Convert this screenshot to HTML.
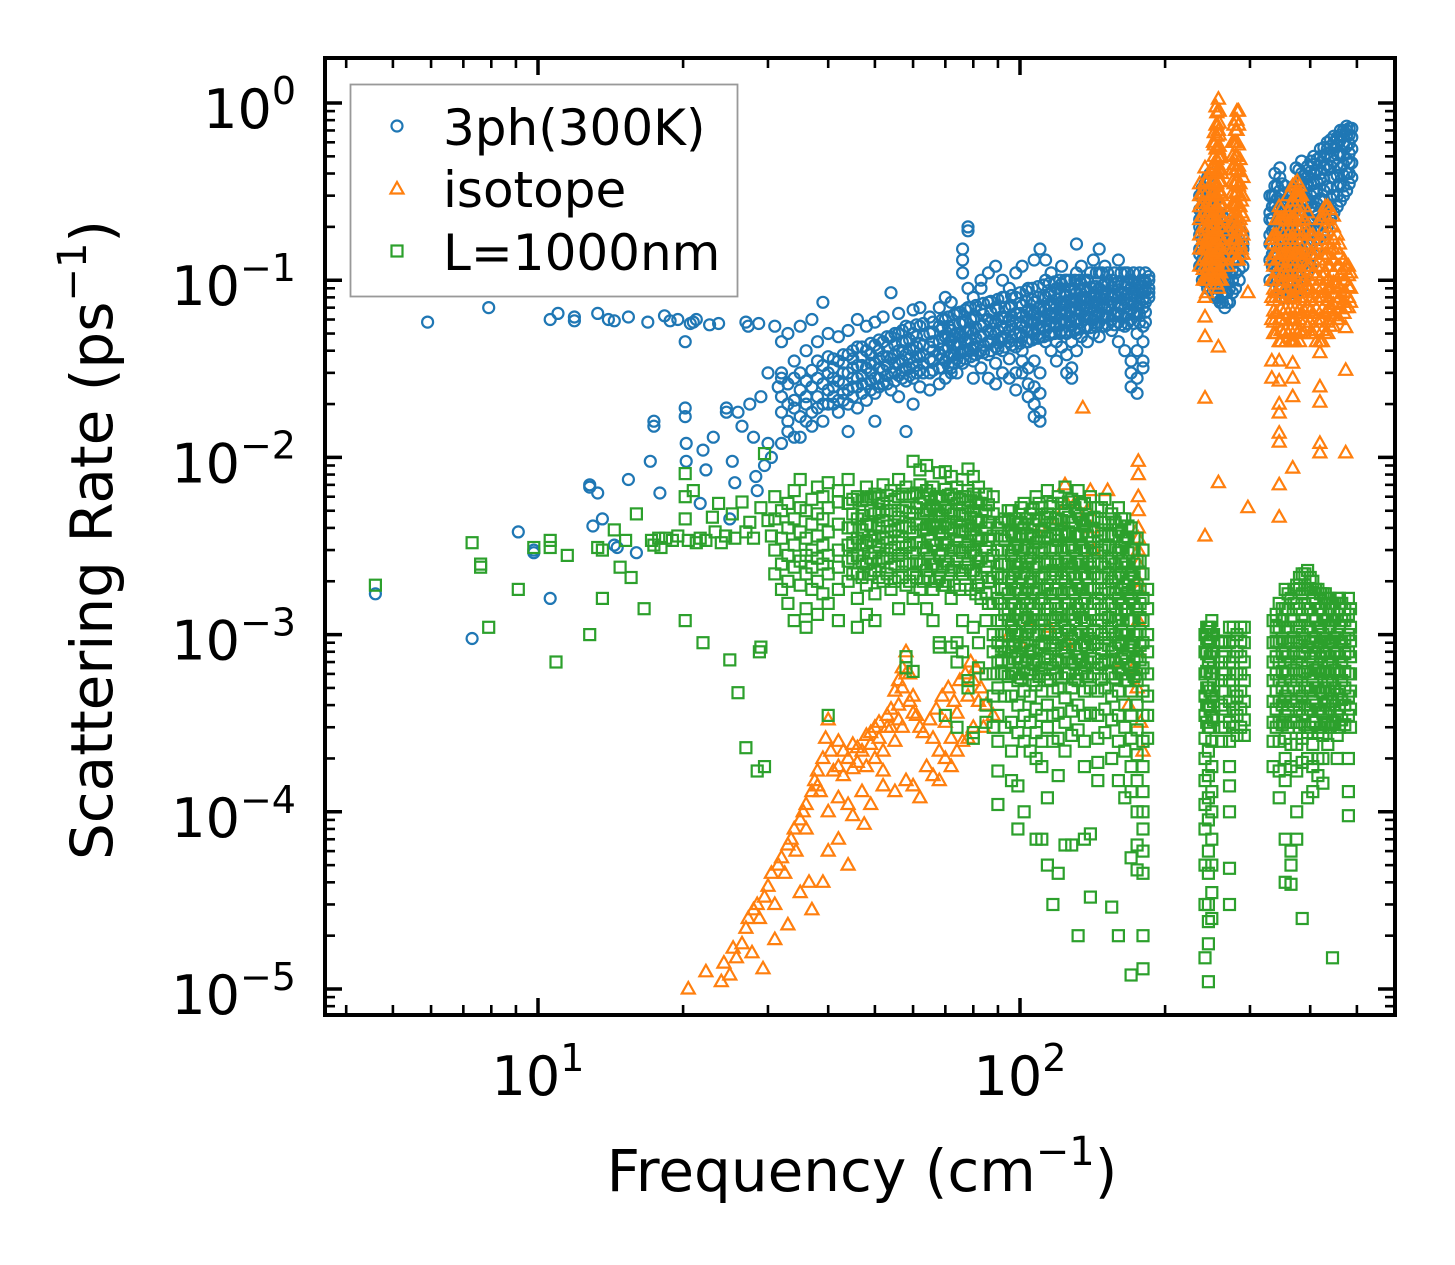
<!DOCTYPE html>
<html><head><meta charset="utf-8">
<style>
html,body{margin:0;padding:0;background:#fff;}
svg{display:block;font-family:"DejaVu Sans","Liberation Sans",sans-serif;}
</style></head>
<body>
<svg id="chart" width="1455" height="1265" viewBox="0 0 1455 1265" xmlns="http://www.w3.org/2000/svg">
<rect width="1455" height="1265" fill="#fff"/>
<g id="marks"></g>
<g id="axes"></g>
<g id="legend">
  <rect x="350.5" y="84.5" width="387" height="212" fill="#fff" stroke="#999" stroke-width="1.8"/>
  <circle cx="397" cy="126" r="5.5" fill="none" stroke="#1f77b4" stroke-width="2.2"/>
  <text x="443" y="145" font-size="50">3ph(300K)</text>
  <path d="M397,182 L403.5,193.5 L390.5,193.5 Z" fill="none" stroke="#ff7f0e" stroke-width="2.2"/>
  <text x="443" y="207" font-size="50">isotope</text>
  <rect x="391.5" y="245.5" width="11" height="11" fill="none" stroke="#2ca02c" stroke-width="2.2"/>
  <text x="443" y="270" font-size="50">L=1000nm</text>
</g>
</svg>
<script>
// ---------- data ----------
const xTickValues = [10, 100];
const xTickExps = ["1", "2"];
const yTickValues = [1, 0.1, 0.01, 0.001, 0.0001, 0.00001];
const yTickExps = ["0", "\u22121", "\u22122", "\u22123", "\u22124", "\u22125"];

const threePhScatter = [[4.6,.0017],[5.9,.058],[7.3,.00095],[7.9,.07],[9.1,.0038],[9.8,.0030],[9.8,.0029],[10.6,.0016],[10.6,.06],[11,.065],[11.9,.062],[11.9,.059],[12.8,.007],[12.8,.0068],[13,.0041],[13.3,.0063],[13.3,.065],[13.6,.0045],[14,.06],[14.4,.059],[14.4,.0032],[14.6,.0031],[15.4,.0075],[15.4,.062],[16,.0029],[16.9,.058],[17.1,.0095],[17.4,.016],[17.4,.015],[17.9,.0063],[18.3,.063],[18.8,.059],[19.5,.06],[20.2,.045],[20.2,.019],[20.2,.017],[20.3,.012],[20.3,.0095],[20.7,.057],[21,.058],[21.3,.06],[21.7,.0055],[22,.011],[22.3,.0085],[22.7,.056],[23.1,.013],[23.7,.057],[24.1,.089],[24.6,.019],[24.6,.018],[25,.0045],[25.3,.0095],[25.6,.0072],[26,.018],[26.5,.015],[27,.058],[27.3,.055],[27.5,.02],[28,.013],[28.3,.0078],[28.5,.0065],[28.7,.057],[29,.022],[29.5,.009],[30,.012],[30,.03],[30.5,.01],[31,.055],[31.5,.025],[32,.028]];
const threePhColumns = [
[32,[.018,.022,.03,.012,.045]],[33,[.02,.026,.016,.05,.014]],[34,[.021,.019,.028,.035,.013]],[35,[.024,.017,.03,.013,.055]],[36,[.02,.027,.022,.04,.016]],[37,[.025,.018,.031,.015,.06]],[38,[.022,.028,.019,.045,.035]],[39,[.026,.02,.033,.016,.075]],[40,[.024,.03,.02,.037,.05]],[42,[.027,.021,.035,.018,.048]],[44,[.03,.024,.038,.02,.052,.014]],[46,[.028,.033,.025,.042,.019,.06]],[48,[.032,.026,.04,.021,.055]],[50,[.034,.028,.043,.023,.058,.016]],[52,[.031,.037,.026,.045,.062]],[54,[.036,.03,.048,.024,.085]],[56,[.034,.04,.029,.05,.022,.065]],[58,[.038,.032,.045,.027,.055,.014]],[60,[.04,.034,.05,.028,.068,.02]],[62,[.037,.044,.031,.055,.025,.07]],[65,[.042,.036,.05,.03,.062,.024]],[68,[.045,.038,.055,.032,.07,.026]],[70,[.04,.048,.035,.06,.028,.08]],[72,[.046,.038,.052,.032,.075,.03]],[74,[.043,.05,.036,.065,.03]],[76,[.048,.04,.058,.034,.15,.13,.11]],[78,[.045,.052,.04,.07,.2,.19,.09]],[80,[.05,.042,.06,.035,.08,.028]],[83,[.048,.055,.04,.068,.032,.1,.09]],[86,[.052,.045,.06,.038,.075,.028,.11]],[89,[.05,.058,.042,.07,.034,.12,.026]],[92,[.055,.048,.062,.04,.08,.03,.1]],[95,[.052,.06,.045,.07,.036,.09,.028]],[98,[.058,.05,.065,.042,.08,.03,.11,.024]],[101,[.055,.062,.048,.072,.04,.035,.03,.12]],[104,[.06,.052,.068,.045,.032,.026,.022,.09]],[107,[.058,.065,.05,.075,.035,.025,.02,.017,.13]],[110,[.062,.055,.07,.048,.03,.023,.018,.016,.15]],[113,[.06,.068,.052,.08,.045,.1,.13]],[116,[.065,.058,.072,.05,.085,.04,.11]],[119,[.062,.07,.055,.078,.045,.09,.035]],[122,[.068,.06,.075,.052,.095,.042,.12]],[125,[.065,.072,.058,.082,.05,.1,.038,.03]],[128,[.07,.062,.078,.055,.09,.045,.032,.028]],[131,[.068,.075,.06,.085,.05,.11,.04,.16]],[134,[.072,.065,.08,.058,.095,.048,.12]],[138,[.07,.078,.062,.088,.055,.1,.045]],[142,[.075,.068,.082,.06,.092,.05,.13]],[146,[.072,.08,.065,.09,.058,.11,.048,.15]],[150,[.078,.07,.085,.062,.095,.055,.12]],[155,[.075,.082,.068,.092,.06,.1,.052]],[160,[.08,.072,.088,.065,.098,.058,.13,.045]],[165,[.078,.085,.07,.095,.062,.11,.055,.04]],[170,[.082,.075,.09,.068,.1,.06,.035,.03,.025]],[175,[.08,.088,.072,.095,.065,.05,.04,.028,.023]],[180,[.085,.078,.092,.07,.1,.055,.045,.035,.032]],[185,[.09,.1,.085,.08,.105]],
[236,[.12,.15,.2,.25,.3,.22,.18,.14]],[242,[.1,.13,.17,.22,.28,.35,.26,.2,.16,.12]],[248,[.11,.14,.19,.24,.3,.4,.36,.26,.18,.13,.09]],[254,[.08,.1,.13,.17,.22,.28,.25,.2,.15,.11]],[260,[.075,.09,.12,.15,.19,.24,.2,.16,.13,.1]],[266,[.07,.085,.1,.13,.16,.2,.18,.14,.11]],[272,[.075,.09,.11,.14,.17,.21,.19,.15,.12]],[280,[.09,.11,.13,.16,.19,.22,.18,.15]],[290,[.12,.15,.18,.16]],
[330,[.13,.18,.24,.3,.22,.16,.1]],[338,[.1,.14,.19,.26,.34,.4,.3,.2,.12]],[346,[.09,.12,.17,.23,.3,.38,.43,.32,.2,.11]],[355,[.08,.11,.15,.2,.27,.34,.28,.18,.12]],[364,[.08,.1,.14,.19,.25,.32,.26,.16,.1]],[374,[.085,.11,.15,.2,.27,.35,.43,.3,.2,.13]],[384,[.09,.12,.17,.23,.3,.4,.47,.36,.25,.15]],[395,[.11,.15,.2,.27,.35,.44,.38,.28,.18]],[407,[.14,.19,.25,.32,.4,.5,.45,.35,.24]],[420,[.17,.22,.29,.37,.46,.55,.5,.4,.28]],[434,[.2,.26,.34,.42,.52,.6,.55,.45]],[448,[.24,.3,.38,.47,.56,.65,.6]],[462,[.28,.35,.43,.52,.62,.7,.66]],[476,[.32,.4,.48,.57,.66,.74,.7]],[488,[.38,.46,.55,.64,.72]]
];
const threePhColumnsFill = [
[41,[.022,.025,.028,.032,.036,.02]],[43,[.023,.026,.03,.034,.038,.021]],[45,[.025,.028,.032,.036,.04,.022]],[47,[.026,.029,.033,.037,.042,.023]],[49,[.027,.03,.034,.038,.044,.024]],[51,[.028,.032,.036,.04,.046,.025]],[53,[.029,.033,.037,.042,.048,.026]],[55,[.03,.034,.038,.043,.05,.027]],[57,[.031,.035,.04,.045,.052,.028]],[59,[.032,.036,.041,.046,.054,.029]],[61,[.033,.037,.042,.048,.056,.03]],[63,[.034,.038,.043,.049,.057,.03]],[66,[.035,.04,.045,.051,.058,.031]],[69,[.036,.041,.047,.053,.06,.032]],[71,[.037,.042,.048,.055,.062,.033]],[73,[.038,.043,.049,.056,.064,.034]],[75,[.039,.044,.05,.057,.066,.035]],[77,[.04,.045,.051,.058,.068,.036]],[79,[.041,.046,.052,.06,.07,.037]],[81,[.042,.047,.054,.062,.072,.038]],[84,[.043,.049,.056,.064,.074,.039]],[87,[.045,.05,.058,.066,.076,.04]],[90,[.046,.052,.06,.068,.078,.041]],[93,[.047,.053,.061,.07,.08,.042]],[96,[.048,.055,.063,.072,.082,.043]],[100,[.05,.057,.065,.074,.085,.044]],[103,[.051,.058,.066,.076,.087,.045]],[106,[.052,.059,.068,.078,.09,.046]],[109,[.053,.06,.069,.08,.092,.047]],[112,[.054,.062,.071,.082,.094,.048]],[115,[.055,.063,.072,.083,.096,.049]],[118,[.056,.064,.073,.084,.098,.05]],[121,[.057,.065,.074,.085,.1,.05]],[124,[.058,.066,.075,.086,.1,.051]],[127,[.058,.067,.076,.087,.1,.052]],[130,[.059,.068,.077,.088,.1,.052]],[133,[.06,.069,.078,.089,.1,.053]],[136,[.06,.07,.079,.09,.1,.054]],[140,[.061,.07,.08,.091,.11,.054]],[144,[.062,.071,.081,.092,.11,.055]],[148,[.062,.072,.082,.093,.11,.055]],[152,[.063,.072,.082,.094,.11,.056]],[157,[.063,.073,.083,.095,.11,.056]],[162,[.064,.073,.084,.096,.11,.056]],[167,[.064,.074,.084,.096,.11,.057]],[172,[.065,.074,.085,.097,.11,.057]],[177,[.065,.075,.085,.097,.11,.058]],[182,[.066,.075,.086,.098,.11,.058]],
[239,[.1,.115,.13,.15,.17,.195,.22,.25,.29,.33]],[245,[.09,.1,.115,.13,.15,.17,.195,.22,.25,.29,.33,.38]],[251,[.085,.095,.11,.125,.145,.165,.19,.22,.25,.29]],[257,[.08,.09,.105,.12,.14,.16,.18,.21,.24]],[263,[.075,.085,.1,.115,.13,.15,.17,.2,.23]],[269,[.075,.085,.1,.115,.13,.15,.17,.2]],[276,[.085,.1,.115,.13,.15,.17,.2]],[285,[.1,.115,.13,.15,.17,.2]],
[334,[.12,.14,.16,.19,.22,.26,.3]],[342,[.1,.115,.135,.155,.18,.21,.25,.29,.34]],[350,[.09,.105,.12,.14,.165,.19,.22,.26,.3,.35]],[359,[.085,.1,.115,.135,.155,.18,.21,.24,.28]],[369,[.085,.1,.115,.135,.155,.18,.21,.24,.28,.33]],[379,[.09,.105,.12,.14,.165,.19,.22,.26,.3,.36,.42]],[390,[.1,.115,.135,.155,.18,.21,.24,.28,.33,.39]],[401,[.12,.14,.16,.19,.22,.26,.3,.35,.41,.47]],[413,[.15,.17,.2,.23,.27,.31,.36,.42,.48]],[427,[.18,.21,.24,.28,.32,.37,.43,.5,.56]],[441,[.22,.25,.29,.33,.38,.44,.5,.57,.62]],[455,[.26,.3,.34,.39,.45,.51,.58,.64]],[469,[.3,.34,.39,.45,.51,.58,.65,.7]],[482,[.35,.4,.46,.52,.59,.66,.72]]
];

const isotopeScatter = [[20.5,1e-5],[22.3,1.25e-5],[24,1.1e-5],[24.3,1.4e-5],[25,1.2e-5],[25.4,1.7e-5],[25.8,1.5e-5],[26.5,1.8e-5],[27,2.2e-5],[27.3,2.5e-5],[27.8,1.6e-5],[28,2.8e-5],[28.5,3e-5],[28.8,2.5e-5],[29.3,1.3e-5],[29.5,3.3e-5],[30,3.8e-5],[30.5,4.5e-5],[31,3e-5],[31.5,5e-5],[32,5.5e-5],[32.5,4.5e-5],[33,6.5e-5],[33.5,7e-5],[34,8e-5],[34.3,6e-5],[35,9e-5],[35.5,1e-4],[36,1.1e-4],[36.5,4e-5],[36,8e-5],[37,1.3e-4],[37.5,1.5e-4],[38,1.7e-4],[38.5,1.3e-4],[39,2e-4],[39.5,2.6e-4],[40,3.3e-4],[40.5,2.2e-4],[41,1.7e-4],[42,1.8e-4],[43,1.6e-4],[44,2e-4],[45,1.75e-4],[46,1.9e-4],[47,2.2e-4],[48,1.8e-4],[49,2.4e-4],[50,2e-4],[51,2.6e-4],[52,2.2e-4],[53,3e-4],[54,3.8e-4],[55,4.8e-4],[56,5.5e-4],[57,6.5e-4],[58,8e-4],[59,6e-4],[60,4.5e-4],[61,3.5e-4],[62,3e-4],[63,2.8e-4],[65,3.3e-4],[67,3.8e-4],[69,4.5e-4],[71,5e-4],[73,4.2e-4],[75,5.5e-4],[77,6e-4],[79,7e-4],[81,6.5e-4],[83,5e-4],[85,4e-4],[88,3.5e-4],
[38,1.4e-4],[40,1e-4],[42,1.2e-4],[44,1.1e-4],[45,9.5e-5],[47,1.3e-4],[47.5,8.5e-5],[49,1.1e-4],[52,1.4e-4],[55,1.3e-4],[58,1.5e-4],[60,1.4e-4],[62,1.2e-4],[64,1.8e-4],[66,1.6e-4],[68,1.5e-4],[70,2e-4],[72,1.8e-4],[74,2.2e-4],[76,2.5e-4],[78,2.6e-4],[80,3e-4],[40,6e-5],[42,7e-5],[44,5e-5],[39,4e-5],[37,2.8e-5],[35,3.5e-5],[33,2.3e-5],[31,1.9e-5],
[42,2.5e-4],[45,2.4e-4],[48,2.7e-4],[50,3e-4],[53,3.5e-4],[56,4e-4],[57,3e-4],[55,2.5e-4],[52,1.7e-4],
[43,2.2e-4],[46,2.3e-4],[49,2.8e-4],[51,3.2e-4],[54,3e-4],[56,3.3e-4],[58,6e-4],[57,5e-4],[59,4.2e-4],[60,3.6e-4],[66,2.6e-4],[70,3.2e-4],[74,3.6e-4],[78,4.5e-4],[80,5.5e-4],[82,4.2e-4],[84,3e-4],[72,2.6e-4],[68,2.2e-4],
[95,.001],[100,.0009],[105,.0012],[115,.0011],[125,.0009],[160,.0007],[172,.00065],[175,.0005],[178,.00032],[180,.00022],[168,.0004],[110,.004],[120,.0045],[130,.0055],[135,.019],[152,.0065],[124,.007],[125,.0055],[138,.005],[140,.0065],[141,.004],[142,.003]];
const isotopeColumns = [
[176,[.002,.003,.004,.005,.006,.008,.0095,.0035,.0025,.0018,.0012,.0008]],
[236,[.12,.15,.18,.22,.26,.3,.35]],[242,[.08,.1,.12,.15,.19,.24,.3,.36,.43,.062,.048,.0216,.0036]],[248,[.1,.13,.17,.22,.28]],[252,[.12,.16,.21,.27,.35,.45,.6]],[255,[.1,.13,.17,.22,.3,.4,.55,.75,.95]],[258,[.09,.11,.14,.18,.24,.32,.42,.55,.7,.9,1.05,.042,.0072]],[262,[.1,.13,.17,.22,.3,.4,.5]],[270,[.12,.15,.19,.24]],[278,[.14,.17,.21,.27,.35,.45,.6,.75,.17]],[284,[.13,.16,.2,.26,.34,.44,.58,.75,.9]],[290,[.14,.18,.23,.3,.38]],[297,[.0052,.085]],
[333,[.06,.08,.1,.13,.17,.035,.028]],[340,[.05,.065,.085,.11,.14,.18,.22]],[345,[.045,.06,.08,.1,.13,.17,.22,.26,.035,.027,.02,.0178,.0137,.0122,.007,.0046]],[352,[.05,.065,.085,.11,.14,.18,.22]],[360,[.05,.065,.085,.11,.14,.18,.24,.3]],[368,[.045,.06,.08,.1,.13,.17,.22,.28,.34,.034,.028,.022,.0087]],[376,[.05,.065,.085,.11,.14,.18,.23,.3,.36]],[384,[.05,.065,.085,.11,.14,.18,.23,.3]],[395,[.055,.07,.09,.12,.15,.19,.24]],[405,[.05,.065,.085,.11,.14,.18]],[419,[.045,.06,.08,.1,.13,.17,.22,.039,.025,.0205,.012,.0106]],[430,[.05,.065,.085,.11,.14,.18,.23,.26]],[440,[.055,.07,.09,.12,.15,.2,.25]],[455,[.06,.075,.095,.12,.15,.18]],[474,[.07,.085,.1,.12,.054,.031,.0106]],[485,[.075,.09,.11]]
];
const isotopeColumnsFill = [
[240,[.1,.115,.13,.15,.17,.2,.23,.27,.31]],[244,[.085,.1,.115,.13,.15,.17,.2,.23,.27,.31,.36]],[246,[.1,.115,.13,.15,.17,.2,.23]],[250,[.11,.13,.15,.17,.2,.23,.27,.31,.36,.42]],[253,[.1,.115,.13,.15,.17,.2,.23,.27,.31,.36,.42,.5,.58,.68]],[256,[.095,.11,.125,.145,.165,.19,.22,.26,.3,.35,.41,.48,.56,.65,.76,.88]],[259,[.1,.115,.13,.15,.17,.2,.23,.27,.31,.36,.42,.49,.57,.66,.77,.9]],[261,[.11,.13,.15,.17,.2,.23,.27,.31,.36,.42,.49]],[264,[.12,.14,.16,.19,.22,.26]],[276,[.15,.17,.2,.23,.27,.31,.36,.42,.5,.6]],[280,[.13,.15,.17,.2,.23,.27,.31,.36,.42,.5,.6,.7,.8]],[282,[.13,.15,.17,.2,.23,.27,.31,.36,.42,.5,.6,.7,.8,.9]],[286,[.14,.16,.19,.22,.26,.3,.35,.41,.48]],[288,[.15,.17,.2,.24,.28]],
[336,[.05,.058,.067,.077,.089,.1,.12,.14,.16,.18]],[348,[.045,.052,.06,.069,.08,.092,.106,.12,.14,.16,.19,.22,.25]],[356,[.045,.052,.06,.069,.08,.092,.106,.12,.14,.16,.19,.22]],[364,[.045,.052,.06,.069,.08,.092,.106,.12,.14,.16,.19,.22,.26]],[372,[.045,.052,.06,.069,.08,.092,.106,.12,.14,.16,.19,.22,.26,.3,.35]],[380,[.045,.052,.06,.069,.08,.092,.106,.12,.14,.16,.19,.22,.26,.3,.34]],[389,[.05,.058,.067,.077,.089,.1,.12,.14,.16,.19,.22,.26]],[400,[.05,.058,.067,.077,.089,.1,.12,.14,.16,.18]],[412,[.045,.052,.06,.069,.08,.092,.106,.12,.14,.16]],[424,[.045,.052,.06,.069,.08,.092,.106,.12,.14,.16,.19,.22]],[435,[.05,.058,.067,.077,.089,.1,.12,.14,.16,.19,.22,.26]],[447,[.055,.063,.073,.084,.097,.11,.13,.15,.17,.2,.23]],[460,[.06,.069,.08,.092,.106,.12,.14,.16]],[470,[.065,.075,.086,.1,.115,.13]],[480,[.07,.08,.092,.106,.12]]
];

const lengthScatter = [[4.6,.0019],[7.3,.0033],[7.6,.0025],[7.6,.0024],[7.9,.0011],[9.1,.0018],[9.8,.0031],[10.6,.0034],[10.6,.0031],[10.9,7e-4],[11.5,.0028],[12.8,.001],[13.3,.0031],[13.6,.003],[13.6,.0016],[14.4,.0039],[14.8,.0024],[15.2,.0034],[15.6,.0021],[16,.0048],[16.6,.0014],[17.2,.0034],[17.4,.0032],[17.8,.0035],[18,.0031],[18.4,.0035],[19,.0034],[19.5,.0036],[20.2,.0081],[20.2,.006],[20.2,.0045],[20.2,.0012],[20.5,.0034],[21,.0065],[21.3,.0033],[21.7,.0035],[22,.0009],[22.3,.0034],[23,.0046],[23.3,.0038],[23.7,.0055],[24,.0033],[24.5,.0036],[25,.00072],[25.3,.0048],[25.6,.0035],[26,.00047],[26.5,.0056],[27,.0038],[27,.00023],[27.5,.0043],[28,.0035],[28.5,.00017],[28.8,.0008],[29,.0052],[29,.00085],[29.5,.0105],[29.5,.00018],[30,.0044],[30.5,.0036]];
const lengthColumns = [
[31,[.003,.0045,.0022,.006]],[32,[.0035,.0025,.005,.0018]],[33,[.004,.0028,.0055,.002,.0015]],[34,[.0032,.0045,.0024,.0065,.0012]],[35,[.0038,.0026,.0052,.0019,.0075]],[36,[.0035,.005,.0028,.0022,.0014,.0011]],[37,[.0042,.003,.0058,.0024,.0018]],[38,[.0036,.0048,.0027,.0068,.002,.0013]],[39,[.0045,.0032,.006,.0025,.0017]],[40,[.0038,.0052,.0028,.0072,.0022,.0015,.00035]],[42,[.0042,.003,.0056,.0024,.0065,.0018,.0012]],[44,[.004,.0055,.0032,.0026,.0075,.002]],[46,[.0045,.0035,.006,.0028,.0022,.0016,.0011]],[48,[.0042,.0058,.0033,.0025,.0068,.0019,.0013]],[50,[.0048,.0036,.0062,.0029,.0023,.0017,.0012]],[52,[.0044,.0055,.0035,.0027,.007,.002]],[54,[.005,.0038,.0065,.003,.0024,.0018]],[56,[.0046,.006,.0036,.0028,.0075,.0021,.0014]],[58,[.0052,.004,.0068,.0031,.0025,.0019,.00075,.00065]],[60,[.0048,.0062,.0038,.0029,.0095,.0022,.0016,.00062]],[62,[.0055,.0042,.007,.0033,.0085,.0025,.0018]],[64,[.005,.0065,.004,.003,.009,.0023,.0014]],[66,[.0053,.0041,.0068,.0032,.0025,.0018,.0012]],[68,[.0048,.006,.0038,.0028,.0082,.0021,.0009,.00085]],[70,[.0052,.0042,.0066,.0033,.0026,.0083,.0019,.00035]],[72,[.005,.0062,.004,.003,.0078,.0023,.0016,.00085]],[74,[.0055,.0043,.0068,.0034,.0026,.0009,.0007,.0003]],[76,[.0048,.006,.0038,.0029,.0075,.0022,.0012,.0008]],[78,[.0052,.0041,.0065,.0032,.0086,.0025,.00055,.0005]],[80,[.005,.0062,.0039,.003,.0078,.0023,.0011,.00028,.00026]],[82,[.0055,.0043,.0068,.0034,.0026,.0019,.0009,.00065]],[85,[.005,.0062,.004,.0031,.0024,.0017,.0012,.0006,.0004,.00032]],[88,[.0048,.0036,.006,.0028,.0021,.0015,.001,.0008,.0006,.00045,.0003]],
[90,[.004,.003,.0022,.0016,.0012,.0009,.0007,.0005,.00035,.00025,.00017,.00011]],[93,[.0045,.0034,.0025,.0018,.0013,.001,.0008,.0006,.00045,.0003]],[96,[.005,.0038,.0028,.002,.0015,.0011,.0008,.0006,.00045,.00032,.00022,.00015]],[99,[.0042,.0032,.0024,.0018,.0013,.001,.00075,.00055,.0004,.00028,.00014,.00008]],[102,[.0055,.004,.003,.0022,.0016,.0012,.0009,.00065,.00048,.00035,.00025,.0001]],[105,[.0048,.0036,.0027,.002,.0015,.0011,.0008,.0006,.00045,.00032,.00022]],[108,[.006,.0045,.0033,.0024,.0018,.0013,.001,.00072,.00052,.00038,.00028,.0002,.00007]],[111,[.0052,.0039,.0029,.0021,.0016,.0012,.0009,.00065,.00048,.00035,.00025,.00018,.00007]],[114,[.0065,.0048,.0035,.0026,.0019,.0014,.001,.00075,.00055,.0004,.0003,.00012,.00005]],[117,[.0055,.0042,.0031,.0023,.0017,.0012,.0009,.00065,.00048,.00035,.00025,.00003]],[120,[.006,.0045,.0034,.0025,.0018,.0013,.00095,.0007,.0005,.00036,.00026,.00016,.000045]],[124,[.0068,.005,.0037,.0027,.002,.0015,.0011,.0008,.0006,.00044,.00032,.00022,.000065]],[128,[.0058,.0043,.0032,.0024,.0018,.0013,.00095,.0007,.0005,.00037,.00027,.000065]],[132,[.0065,.0048,.0036,.0026,.0019,.0014,.001,.00075,.00055,.0004,.00029,.00002]],[136,[.0055,.0041,.003,.0022,.0016,.0012,.0009,.00065,.00048,.00035,.00025,.00018,.00007]],[140,[.006,.0045,.0033,.0024,.0018,.0013,.00095,.0007,.0005,.00036,.000075,.000033]],[145,[.0052,.0039,.0029,.0021,.0016,.0012,.0009,.00065,.00048,.00035,.00026,.00019,.00015]],[150,[.0058,.0043,.0032,.0024,.0018,.0013,.00095,.0007,.0005,.00038,.00028]],[155,[.0048,.0036,.0027,.002,.0015,.0011,.0008,.0006,.00045,.00033,.0002,.000029]],[160,[.0052,.0039,.0029,.0021,.0016,.0012,.0009,.00065,.00048,.00035,.00025,.00015,.00002]],[165,[.0045,.0034,.0025,.0019,.0014,.001,.00075,.00055,.0004,.0003,.00022,.00012]],[170,[.004,.003,.0022,.0016,.0012,.0009,.00065,.00048,.00035,.00026,.00018,.00013,.000055,.000012]],[175,[.0035,.0026,.0019,.0014,.001,.00075,.00055,.0004,.00029,.00021,.00015,.0001,.000065,.000047]],[180,[.003,.0022,.0016,.0012,.0009,.00065,.00048,.00035,.00025,.00018,.00013,.0001,.00008,.00006,.000045,.00002,.000013]],[184,[.0018,.0014,.001,.0008,.0006,.00045,.00035,.00026]],
[242,[.001,.0008,.0006,.00045,.00035,.00026,.0002,.00015,.00011,.00008,.00005,.00003,.000015]],[246,[.0011,.0009,.0007,.0005,.0004,.0003,.00022,.00016,.00012,.00009,.00006,.000045,.00003,.000024,.000018,.000011]],[250,[.0012,.001,.0008,.0006,.00045,.00034,.00025,.00018,.00013,.0001,.00007,.00005,.000035,.000025]],[262,[.0009,.0007,.00055,.0004,.0003,.00025]],[272,[.0011,.0009,.0007,.00055,.00042,.00032,.00025,.00018,.00014,.0001,.000048,.00003]],[282,[.001,.0008,.0006,.00045,.00035,.00027]],[292,[.0011,.0009,.0007,.00055,.00042,.00033,.00027]],
[335,[.0012,.0009,.0007,.00055,.00042,.00032,.00025,.00018]],[345,[.0015,.0011,.0009,.0007,.00055,.00042,.00032,.00025,.00017,.00012]],[355,[.0018,.0014,.0011,.0008,.0006,.00045,.00035,.00026,.0002,.00015,.00007,.00004]],[365,[.0016,.0012,.0009,.0007,.00055,.00042,.00032,.00024,.00018,.00006,.00005,.000039]],[375,[.0019,.0015,.0011,.0009,.0007,.00055,.00042,.00032,.00024,.00017,.0001,.00007]],[385,[.0022,.0017,.0013,.001,.0008,.0006,.00045,.00035,.00026,.00019,.000025]],[395,[.0023,.0018,.0014,.0011,.00085,.00065,.0005,.00038,.00028,.0002,.00012]],[405,[.002,.0016,.0012,.0009,.0007,.00055,.00042,.00032,.00024,.00018,.00013]],[415,[.0018,.0014,.0011,.00085,.00065,.0005,.00038,.00028,.0002,.00016]],[425,[.0017,.0013,.001,.0008,.0006,.00047,.00036,.00027,.0002,.000145]],[435,[.0016,.0012,.0009,.0007,.00055,.00042,.00032,.00024]],[445,[.0015,.0012,.0009,.0007,.00055,.00042,.00032,.000015]],[455,[.0016,.0013,.001,.0008,.0006,.00046,.00035,.00027,.0002]],[465,[.0015,.0012,.0009,.0007,.00055,.00043,.00033]],[480,[.0016,.0013,.001,.0008,.0006,.00045,.00035,.0002,.00013,.000095]]
];
const lengthColumnsFill = [
[45,[.0022,.0027,.0033,.004,.0048,.0058]],[47,[.0021,.0026,.0032,.0039,.0047,.0057]],[49,[.0022,.0027,.0034,.0041,.005,.006]],[51,[.0021,.0026,.0032,.004,.0049,.0059]],[53,[.0022,.0027,.0033,.0041,.005,.0061]],[55,[.002,.0025,.0031,.0039,.0048,.0058]],[57,[.0021,.0026,.0033,.0041,.005,.0062]],[59,[.002,.0025,.0032,.004,.0049,.006]],[61,[.0021,.0026,.0033,.0042,.0052,.0063]],[63,[.002,.0025,.0031,.0039,.0048,.0059]],[65,[.0021,.0027,.0034,.0042,.0051,.0062]],[67,[.002,.0025,.0032,.004,.005,.006]],[69,[.0019,.0024,.003,.0038,.0047,.0058]],[71,[.002,.0025,.0032,.004,.005,.0061]],[73,[.0019,.0024,.0031,.0039,.0048,.0059]],[75,[.0018,.0023,.003,.0038,.0047,.0058]],[77,[.0019,.0024,.0031,.0039,.0048,.006]],[79,[.0018,.0023,.0029,.0037,.0046,.0057]],[81,[.0017,.0022,.0028,.0036,.0045,.0056]],[83,[.0016,.0021,.0027,.0035,.0044,.0055]],[86,[.0015,.002,.0026,.0034,.0043,.0054]],
[91.5,[.0006,.00072,.00086,.001,.0012,.0015,.0018,.0021,.0025,.003,.0036,.0043]],[94.5,[.00058,.0007,.00085,.001,.0012,.0014,.0017,.0021,.0025,.003,.0036,.0044,.005]],[97.5,[.0006,.00073,.00088,.00105,.0013,.0015,.0018,.0022,.0026,.0031,.0037,.0045]],[100.5,[.00057,.0007,.00084,.001,.0012,.0014,.0017,.0021,.0025,.003,.0036,.0043,.0052]],[103.5,[.0006,.00072,.00087,.00104,.00125,.0015,.0018,.0022,.0026,.0031,.0037,.0045]],[106.5,[.00055,.00068,.00082,.001,.0012,.0014,.0017,.002,.0024,.0029,.0035,.0042,.0051]],[109.5,[.00058,.0007,.00085,.001,.0012,.0015,.0018,.0021,.0025,.003,.0036,.0044,.0055]],[112.5,[.0006,.00073,.00088,.00106,.0013,.0015,.0018,.0022,.0026,.0031,.0038,.0046]],[115.5,[.00056,.00068,.00083,.001,.0012,.0014,.0017,.0021,.0025,.003,.0036,.0043,.0053]],[118.5,[.0006,.00072,.00087,.00104,.00125,.0015,.0018,.0022,.0026,.0031,.0037,.0045]],[122,[.00057,.0007,.00084,.001,.0012,.0014,.0017,.0021,.0025,.003,.0036,.0044,.0055]],[126,[.0006,.00073,.00088,.00106,.0013,.0015,.0018,.0022,.0026,.0031,.0038,.0046,.0056]],[130,[.00056,.00068,.00083,.001,.0012,.0014,.0017,.0021,.0025,.003,.0036,.0043,.0052]],[134,[.0006,.00072,.00087,.00104,.00125,.0015,.0018,.0022,.0026,.0031,.0037,.0045,.0054]],[138,[.00058,.0007,.00085,.001,.0012,.0015,.0018,.0021,.0025,.003,.0036,.0044]],[142.5,[.0006,.00073,.00088,.00106,.0013,.0015,.0018,.0022,.0026,.0031,.0038,.0046]],[147.5,[.00056,.00068,.00083,.001,.0012,.0014,.0017,.0021,.0025,.003,.0036,.0043,.0052]],[152.5,[.0006,.00072,.00087,.00104,.00125,.0015,.0018,.0022,.0026,.0031,.0037,.0045]],[157.5,[.00057,.0007,.00084,.001,.0012,.0014,.0017,.0021,.0025,.003,.0036,.0043]],[162.5,[.0006,.00073,.00088,.00106,.0013,.0015,.0018,.0022,.0026,.0031,.0038,.0045]],[167.5,[.00055,.00068,.00082,.001,.0012,.0014,.0017,.002,.0024,.0029,.0035,.0041]],[172.5,[.00058,.0007,.00085,.001,.0012,.0015,.0018,.0021,.0025,.003,.0035]],[177.5,[.0006,.00072,.00087,.00104,.00125,.0015,.0018,.0022,.0026]],
[244,[.00032,.0004,.0005,.00062,.00078,.00095,.0011]],[248,[.0003,.00038,.00048,.0006,.00075,.00092,.0011]],[252,[.00033,.00042,.00052,.00065,.0008,.001]],[266,[.0003,.00038,.00048,.0006,.00075,.00092]],[277,[.0003,.00038,.00048,.0006,.00075,.00092,.0011]],[287,[.0003,.00038,.00048,.0006,.00075,.00092,.0011]],
[340,[.0003,.00038,.00048,.0006,.00075,.00092,.0011,.0013]],[350,[.00031,.0004,.0005,.00062,.00078,.00095,.0012,.0014]],[360,[.0003,.00038,.00048,.0006,.00075,.00092,.0011,.0014,.0017]],[370,[.00032,.0004,.0005,.00063,.00078,.00096,.0012,.0015,.0018]],[380,[.0003,.00038,.00048,.0006,.00075,.00092,.0011,.0014,.0018,.0021]],[390,[.00031,.0004,.0005,.00062,.00078,.00095,.0012,.0015,.0019,.0022]],[400,[.0003,.00038,.00048,.0006,.00075,.00092,.0011,.0014,.0018,.0021]],[410,[.00032,.0004,.0005,.00063,.00078,.00096,.0012,.0015,.0018]],[420,[.0003,.00038,.00048,.0006,.00075,.00092,.0011,.0014,.0017]],[430,[.00031,.0004,.0005,.00062,.00078,.00095,.0012,.0015,.0017]],[440,[.0003,.00038,.00048,.0006,.00075,.00092,.0011,.0014,.0016]],[450,[.00032,.0004,.0005,.00063,.00078,.00096,.0012,.0015]],[460,[.0003,.00038,.00048,.0006,.00075,.00092,.0011,.0014,.0016]],[472,[.00031,.0004,.0005,.00062,.00078,.00095,.0012,.0014]],[485,[.0003,.00038,.00048,.0006,.00075,.00092,.0011,.0014]]
];

// ---------- axes ----------
const NS = "http://www.w3.org/2000/svg";
const PL = 325, PR = 1395, PT = 58, PB = 1015;
const X10 = 538, XDEC = 482;   // pixel of 10^1, px per decade
const Y0 = 103, YDEC = 177.2;  // pixel of 10^0, px per decade
function xScale(f){ return X10 + XDEC*(Math.log10(f)-1); }
function yScale(r){ return Y0 - YDEC*Math.log10(r); }

const marks = document.getElementById('marks');
const axes = document.getElementById('axes');
function mk(tag, attrs, parent){
  const e = document.createElementNS(NS, tag);
  for (const k in attrs) e.setAttribute(k, attrs[k]);
  parent.appendChild(e);
  return e;
}
const clip = mk('clipPath', {id:'plotclip'}, document.getElementById('chart'));
mk('rect', {x:PL, y:PT, width:PR-PL, height:PB-PT}, clip);
marks.setAttribute('clip-path', 'url(#plotclip)');

function drawCircle(f, r){
  const c = mk('circle', {cx:xScale(f).toFixed(1), cy:yScale(r).toFixed(1), r:5.5, fill:'none', stroke:'#1f77b4', 'stroke-width':2.2}, marks);
  
  
}
function drawTri(f, r){
  const x = xScale(f), y = yScale(r);
  const p = mk('path', {d:`M${x.toFixed(1)},${(y-7).toFixed(1)} L${(x+6.5).toFixed(1)},${(y+4.5).toFixed(1)} L${(x-6.5).toFixed(1)},${(y+4.5).toFixed(1)} Z`, fill:'none', stroke:'#ff7f0e', 'stroke-width':2.2}, marks);
  
  
}
function drawSq(f, r){
  const x = xScale(f), y = yScale(r);
  const s = mk('rect', {x:(x-5.5).toFixed(1), y:(y-5.5).toFixed(1), width:11, height:11, fill:'none', stroke:'#2ca02c', 'stroke-width':2.2}, marks);
  
  
}
function drawSeries(scatter, columns, fn){
  scatter.forEach(p => fn(p[0], p[1]));
  columns.forEach(c => c[1].forEach(v => fn(c[0], v)));
}
drawSeries(threePhScatter, threePhColumns, drawCircle);
drawSeries([], threePhColumnsFill, drawCircle);
drawSeries(isotopeScatter, isotopeColumns, drawTri);
drawSeries([], isotopeColumnsFill, drawTri);
drawSeries(lengthScatter, lengthColumns, drawSq);
drawSeries([], lengthColumnsFill, drawSq);

// ticks
function tick(x1,y1,x2,y2,w,name){
  const l = mk('line', {x1,y1,x2,y2,stroke:'#000','stroke-width':w}, axes);
  
  
}
for (let d=0; d<=2; d++){
  for (let m=1; m<=9; m++){
    const f = m*Math.pow(10,d);
    const x = xScale(f);
    if (x < PL+2 || x > PR-2) continue;
    const major = (m===1);
    const len = major?17:10, w = major?3.5:2.6;
    tick(x,PB,x,PB-len,w,major?'x-major-tick':'x-minor-tick');
    tick(x,PT,x,PT+len,w,major?'x-major-tick-top':'x-minor-tick-top');
  }
}
for (let d=-6; d<=0; d++){
  for (let m=1; m<=9; m++){
    const r = m*Math.pow(10,d);
    const y = yScale(r);
    if (y < PT+2 || y > PB-2) continue;
    const major = (m===1);
    const len = major?17:10, w = major?3.5:2.6;
    tick(PL,y,PL+len,y,w,major?'y-major-tick':'y-minor-tick');
    tick(PR,y,PR-len,y,w,major?'y-major-tick-right':'y-minor-tick-right');
  }
}
const frame = mk('rect', {x:PL, y:PT, width:PR-PL, height:PB-PT, fill:'none', stroke:'#000', 'stroke-width':4}, axes);



xTickValues.forEach((v,i) => {
  const t = mk('text', {x:xScale(v), y:1095, 'font-size':54, 'text-anchor':'middle'}, axes);
  
  
  t.appendChild(document.createTextNode('10'));
  const s = mk('tspan', {'font-size':38, dy:-24}, t);
  s.textContent = xTickExps[i];
});
yTickValues.forEach((v,i) => {
  const t = mk('text', {x:296, y:yScale(v)+25, 'font-size':54, 'text-anchor':'end'}, axes);
  
  
  t.appendChild(document.createTextNode('10'));
  const s = mk('tspan', {'font-size':38, dy:-24}, t);
  s.textContent = yTickExps[i];
});

const xt = mk('text', {x:862, y:1191, 'font-size':58, 'text-anchor':'middle'}, axes);


xt.appendChild(document.createTextNode('Frequency (cm'));
const xs = mk('tspan', {'font-size':40, dy:-26}, xt); xs.textContent = '\u22121';
const xs2 = mk('tspan', {dy:26}, xt); xs2.textContent = ')';

const yt = mk('text', {x:0, y:0, 'font-size':58, 'text-anchor':'middle', transform:'translate(112,540) rotate(-90)'}, axes);


yt.appendChild(document.createTextNode('Scattering Rate (ps'));
const ys = mk('tspan', {'font-size':40, dy:-26}, yt); ys.textContent = '\u22121';
const ys2 = mk('tspan', {dy:26}, yt); ys2.textContent = ')';
</script>
</body></html>
